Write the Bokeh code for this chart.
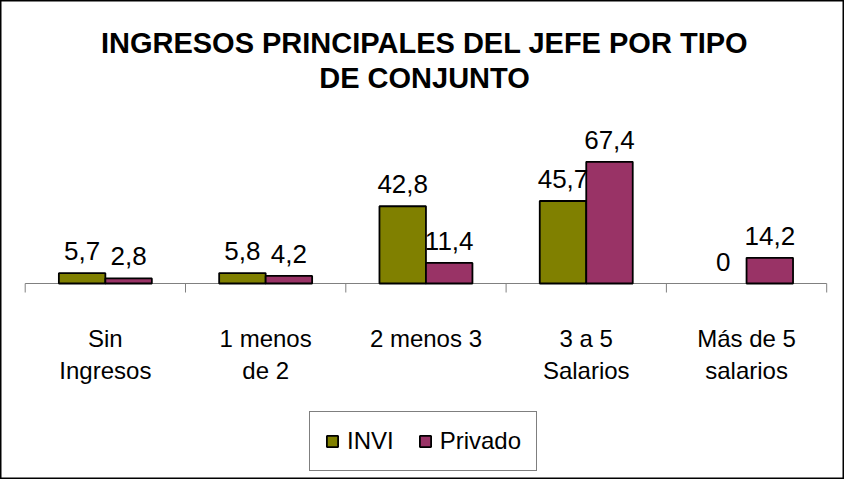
from bokeh.plotting import figure
from bokeh.models import ColumnDataSource, Range1d, Label, Legend, LegendItem
from bokeh.transform import dodge
from bokeh.core.properties import value
from bokeh.embed import file_html
from bokeh.resources import INLINE

# ---- data ----
categories = ["Sin\nIngresos", "1 menos\nde 2", "2 menos 3", "3 a 5\nSalarios", "Más de 5\nsalarios"]
invi = [5.7, 5.8, 42.8, 45.7, 0]
privado = [2.8, 4.2, 11.4, 67.4, 14.2]
series_names = ["INVI", "Privado"]
title_lines = ["INGRESOS PRINCIPALES DEL JEFE POR TIPO", "DE CONJUNTO"]

# ---- layout constants ----
W, H = 844, 479
FONT = "Liberation Sans"
PX_X = 160.3      # px per category
X0_PX = 24.7      # left offset of axis start
BASE_PX = 283     # baseline from top
PX_Y = 1.805      # px per unit
C_INVI = "#808000"
C_PRIV = "#993366"

n = len(categories)

def fmt(v):
    return f"{v:g}".replace(".", ",")

lines = [c.split("\n") for c in categories]
source = ColumnDataSource(dict(
    xc=[i + 0.5 for i in range(n)],
    invi=invi,
    privado=privado,
    invi_lbl=[fmt(v) for v in invi],
    priv_lbl=[fmt(v) for v in privado],
    invi_line=["black" if v > 0 else None for v in invi],
    priv_line=["black" if v > 0 else None for v in privado],
    cat1=[l[0] for l in lines],
    cat2=[l[1] if len(l) > 1 else "" for l in lines],
))

p = figure(
    width=W, height=H,
    x_range=Range1d(-X0_PX / PX_X, (W - X0_PX) / PX_X),
    y_range=Range1d(-(H - BASE_PX) / PX_Y, BASE_PX / PX_Y),
    output_backend="svg", toolbar_location=None,
    x_axis_location=None, y_axis_location=None,
    min_border=0,
)
p.xgrid.visible = False
p.ygrid.visible = False
p.outline_line_color = "black"
p.outline_line_width = 2
p.background_fill_color = "white"
p.border_fill_color = "white"

# baseline and tick marks at category boundaries
p.segment(x0=[0], y0=[0], x1=[n], y1=[0], line_color="#808080", line_width=1)
bounds = list(range(n + 1))
tick = 9 / PX_Y
p.segment(x0=bounds, y0=[0] * len(bounds), x1=bounds, y1=[-tick] * len(bounds),
          line_color="#808080", line_width=1)

BW = 0.29
r1 = p.vbar(x=dodge("xc", -BW / 2, range=p.x_range), top="invi", width=BW, bottom=0,
            fill_color=C_INVI, line_color="invi_line", line_width=1.8, source=source)
r2 = p.vbar(x=dodge("xc", BW / 2, range=p.x_range), top="privado", width=BW, bottom=0,
            fill_color=C_PRIV, line_color="priv_line", line_width=1.8, source=source)

# data labels
p.text(x=dodge("xc", -BW / 2, range=p.x_range), y="invi", text="invi_lbl", source=source,
       y_offset=-22, text_align="center", text_baseline="alphabetic",
       text_font=value(FONT), text_font_size="26px", text_color="black")
p.text(x=dodge("xc", BW / 2, range=p.x_range), y="privado", text="priv_lbl", source=source,
       y_offset=-22, text_align="center", text_baseline="alphabetic",
       text_font=value(FONT), text_font_size="26px", text_color="black")

# category labels
p.text(x="xc", y=0, text="cat1", source=source, y_offset=54.6,
       text_align="center", text_baseline="alphabetic",
       text_font=value(FONT), text_font_size="24px", text_color="black")
p.text(x="xc", y=0, text="cat2", source=source, y_offset=86.8,
       text_align="center", text_baseline="alphabetic",
       text_font=value(FONT), text_font_size="24px", text_color="black")

# title
for t, yb in zip(title_lines, [42.6, 77.5]):
    p.add_layout(Label(x=424, y=H - yb, x_units="screen", y_units="screen", text=t,
                       text_align="center", text_baseline="alphabetic",
                       text_font=FONT, text_font_style="bold", text_font_size="29px",
                       text_color="black"))

legend = Legend(
    items=[LegendItem(label=series_names[0], renderers=[r1]),
           LegendItem(label=series_names[1], renderers=[r2])],
    orientation="horizontal", location=(309, 8),
    border_line_color="black", border_line_width=1,
    background_fill_color="white", background_fill_alpha=1,
    glyph_width=14, glyph_height=14, label_standoff=8, spacing=24, padding=15,
    margin=0, label_text_font=FONT, label_text_font_size="24px",
    label_text_color="black",
)
p.add_layout(legend)

open("out.html", "w").write(file_html(p, INLINE))
